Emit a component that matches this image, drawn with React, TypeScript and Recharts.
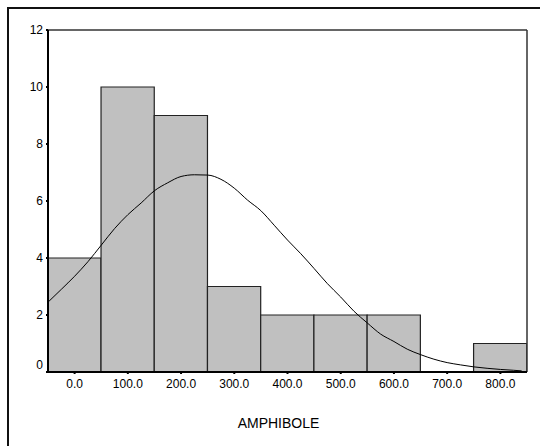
import { ComposedChart, Bar, Line, XAxis, YAxis, ReferenceLine, Rectangle } from 'recharts'

// histogram bins (centre of each 100-wide bin) and counts
const binCenters = [0, 100, 200, 300, 400, 500, 600, 700, 800]
const counts = [4, 10, 9, 3, 2, 2, 2, 0, 1]

// fitted normal curve
const curveX = [-50, -25, 0, 25, 50, 75, 100, 125, 150, 175, 200, 225, 250, 275, 300, 325, 350, 375, 400, 425, 450, 475, 500, 525, 550, 575, 600, 625, 650, 675, 700, 725, 750, 775, 800, 825, 840]
const curveY = [2.45, 2.9, 3.36, 3.87, 4.45, 5.03, 5.52, 5.93, 6.36, 6.64, 6.86, 6.92, 6.91, 6.76, 6.45, 6.03, 5.66, 5.15, 4.63, 4.15, 3.63, 3.1, 2.63, 2.13, 1.72, 1.33, 1.07, 0.8, 0.61, 0.45, 0.33, 0.25, 0.18, 0.13, 0.09, 0.06, 0.04]

const xTicks = [0, 100, 200, 300, 400, 500, 600, 700, 800]
const yTicks = [0, 2, 4, 6, 8, 10, 12]

const font = '"Liberation Sans", Arial, sans-serif'

const W = 540
const H = 446
const margin = { top: 30, right: 13, bottom: 44, left: 8 }
const yAxisWidth = 40
const xDomain: [number, number] = [-50, 850]
const binWidth = 100

// pixel width of one bin on the x scale
const plotWidth = W - margin.left - margin.right - yAxisWidth
const binPx = (plotWidth * binWidth) / (xDomain[1] - xDomain[0])

// one table: curve points, with the bin count attached at each bin centre
const chartData = curveX.map((x, i) => {
  const b = binCenters.indexOf(x)
  return { x, y: curveY[i], count: b >= 0 ? counts[b] : undefined }
})

const HistBar = (props: any) => {
  const { x, y, width, height } = props
  if (!height) return null
  const cx = x + width / 2
  return (
    <Rectangle
      x={cx - binPx / 2}
      y={y}
      width={binPx}
      height={height}
      fill="#c0c0c0"
      stroke="#222"
      strokeWidth={1.2}
    />
  )
}

const YTick = (props: any) => {
  const { x, y, payload } = props
  const shift = payload.value === 0 ? -7 : 0
  return (
    <text x={x} y={y + shift} dy="0.355em" textAnchor="end" fontSize={12} fontFamily={font} fill="#000">
      {payload.value}
    </text>
  )
}

export default function App() {
  return (
    <div style={{ position: 'absolute', left: 0, top: 0, width: W, height: H, background: '#fff' }}>
      <div
        style={{
          position: 'absolute',
          left: 7,
          top: 7,
          width: 531,
          height: 437,
          borderLeft: '2px solid #111',
          borderTop: '2px solid #111'
        }}
      />
      <ComposedChart
        width={W}
        height={H}
        data={chartData}
        margin={margin}
        style={{ position: 'absolute', left: 0, top: 0 }}
      >
        <XAxis
          type="number"
          dataKey="x"
          domain={xDomain}
          ticks={xTicks}
          allowDataOverflow
          height={30}
          tickSize={2}
          tickMargin={5}
          tickFormatter={(v: number) => v.toFixed(1)}
          axisLine={{ stroke: '#000', strokeWidth: 2 }}
          tickLine={{ stroke: '#000', strokeWidth: 2 }}
          tick={{ fontSize: 12, fontFamily: font, fill: '#000' }}
          label={(props: any) => {
            const vb = props.viewBox
            return (
              <text
                x={vb.x + vb.width / 2 - 9}
                y={vb.y + vb.height + 26}
                textAnchor="middle"
                fontSize={14}
                fontFamily={font}
                fill="#000"
              >
                AMPHIBOLE
              </text>
            )
          }}
        />
        <YAxis
          type="number"
          domain={[0, 12]}
          ticks={yTicks}
          allowDataOverflow
          width={yAxisWidth}
          tickSize={2}
          tickMargin={3}
          axisLine={{ stroke: '#000', strokeWidth: 2 }}
          tickLine={{ stroke: '#000', strokeWidth: 2 }}
          tick={<YTick />}
        />
        <ReferenceLine y={12} stroke="#333" strokeWidth={1.5} />
        <ReferenceLine x={850} stroke="#333" strokeWidth={1.5} />
        <Bar dataKey="count" shape={<HistBar />} isAnimationActive={false} />
        <Line
          dataKey="y"
          type="monotone"
          dot={false}
          stroke="#000"
          strokeWidth={1}
          isAnimationActive={false}
        />
      </ComposedChart>
    </div>
  )
}
